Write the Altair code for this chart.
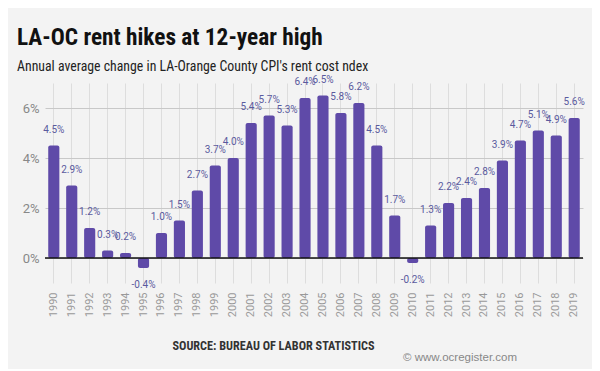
import altair as alt
import pandas as pd

years = [str(y) for y in range(1990, 2020)]
values = [4.5, 2.9, 1.2, 0.3, 0.2, -0.4, 1.0, 1.5, 2.7, 3.7,
          4.0, 5.4, 5.7, 5.3, 6.4, 6.5, 5.8, 6.2, 4.5, 1.7,
          -0.2, 1.3, 2.2, 2.4, 2.8, 3.9, 4.7, 5.1, 4.9, 5.6]
y_ticks = [0, 2, 4, 6]

df = pd.DataFrame({"year": years, "value": values})
df["label"] = [f"{v:.1f}%" for v in values]

FONT = "Roboto Condensed, Liberation Sans Narrow, Roboto"
REG = "Roboto"
BG = "#f3f3f3"
BAR = "#5f4aa8"

x = alt.X("year:N", sort=None,
          scale=alt.Scale(paddingInner=0.38, paddingOuter=0.18),
          axis=alt.Axis(title="SOURCE: BUREAU OF LABOR STATISTICS", titleFont=FONT,
                        titleFontSize=12.2, titleFontWeight="bold", titleColor="#333333",
                        titlePadding=23, titleX=228, labelAngle=270, labelAlign="right",
                        labelBaseline="middle", labelFont=REG, labelFontSize=11,
                        labelColor="#999999", labelPadding=9, ticks=False, domain=False))
y = alt.Y("value:Q", scale=alt.Scale(domain=[-1, 7], nice=False),
          axis=alt.Axis(values=y_ticks, format=".0f", labelExpr="datum.label + '%'",
                        title=None, domain=False, ticks=False, labelFont=REG,
                        labelFontSize=13, labelColor="#888888", labelPadding=6,
                        gridColor="#c8c8c8", gridWidth=1))

base = alt.Chart(df)

bars = base.mark_bar(color=BAR, cornerRadius=2).encode(x=x, y=y, y2=alt.datum(0))

zero = alt.Chart(pd.DataFrame({"z": [0]})).mark_rule(color="#111111", strokeWidth=1.5).encode(y="z:Q")

lab_pos = base.transform_filter("datum.value >= 0").mark_text(
    dy=-16, font=REG, fontSize=10, color="#5a5a9e").encode(x=x, y=y, text="label:N")
lab_neg = base.transform_filter("datum.value < 0").mark_text(
    dy=17, font=REG, fontSize=10, color="#5a5a9e").encode(x=x, y=y, text="label:N")

credit = alt.Chart(pd.DataFrame({"t": ["© www.ocregister.com"]})).mark_text(
    font="Liberation Sans", fontSize=11.5, color="#888888", align="right", baseline="middle"
).encode(x=alt.value(472), y=alt.value(275), text="t:N")

chart = alt.layer(bars, zero, lab_pos, lab_neg, credit).properties(
    width=538, height=200,
    padding={"left": 37, "top": 75, "right": 9, "bottom": 86},
    autosize="none",
    background=BG,
    title=alt.TitleParams(
        "LA-OC rent hikes at 12-year high",
        subtitle="Annual average change in LA-Orange County CPI's rent cost ndex",
        anchor="start", frame="group", dx=-28, offset=0, font=FONT, fontSize=23.3,
        fontWeight="bold", color="#111111", subtitleFont=FONT, subtitleFontSize=13.8,
        subtitleColor="#222222", subtitlePadding=9),
).configure_view(stroke=None).configure_axis(grid=True)

chart.save("out.html", embed_options={"renderer": "svg", "actions": False})
